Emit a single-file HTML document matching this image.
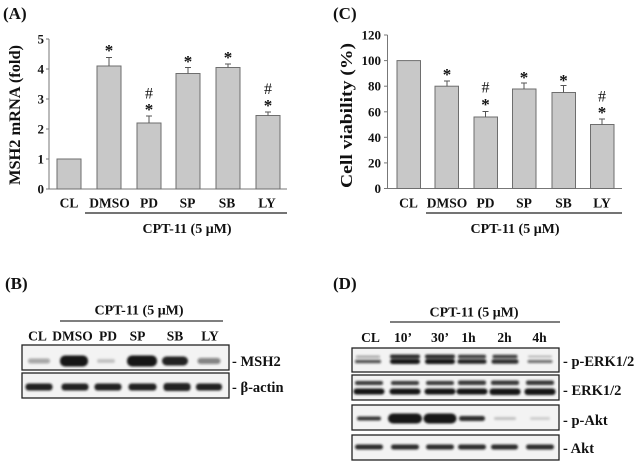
<!DOCTYPE html>
<html>
<head>
<meta charset="utf-8">
<style>
html,body{margin:0;padding:0;background:#fff;}
svg{display:block;}
text{font-family:"Liberation Serif",serif;fill:#111;}
.b{font-weight:bold;}
</style>
</head>
<body>
<svg width="639" height="464" viewBox="0 0 639 464" xmlns="http://www.w3.org/2000/svg">
<defs>
<filter id="bl" x="-30%" y="-100%" width="160%" height="300%"><feGaussianBlur stdDeviation="1.1"/></filter>
</defs>
<rect width="639" height="464" fill="#fff"/>

<!-- ============ Panel A ============ -->
<text x="3" y="19" class="b" font-size="17">(A)</text>
<text transform="translate(20,115) rotate(-90)" text-anchor="middle" class="b" font-size="16" textLength="140" lengthAdjust="spacingAndGlyphs">MSH2 mRNA (fold)</text>
<g stroke="#777" stroke-width="1">
<line x1="49" y1="39" x2="49" y2="189.5"/>
<line x1="49" y1="189" x2="287" y2="189"/>
<line x1="46" y1="39" x2="49" y2="39"/>
<line x1="46" y1="69" x2="49" y2="69"/>
<line x1="46" y1="99" x2="49" y2="99"/>
<line x1="46" y1="129" x2="49" y2="129"/>
<line x1="46" y1="159" x2="49" y2="159"/>
<line x1="46" y1="189" x2="49" y2="189"/>
</g>
<g class="b" font-size="13" text-anchor="end">
<text x="44" y="43.5">5</text>
<text x="44" y="73.5">4</text>
<text x="44" y="103.5">3</text>
<text x="44" y="133.5">2</text>
<text x="44" y="163.5">1</text>
<text x="44" y="193.5">0</text>
</g>
<g fill="#c8c8c8" stroke="#6e6e6e" stroke-width="1">
<rect x="57" y="159" width="24" height="30"/>
<rect x="97" y="66" width="24" height="123"/>
<rect x="137" y="123" width="24" height="66"/>
<rect x="176" y="73.5" width="24" height="115.5"/>
<rect x="216" y="67.5" width="24" height="121.5"/>
<rect x="256" y="115.5" width="24" height="73.5"/>
</g>
<g stroke="#555" stroke-width="1">
<line x1="109" y1="66" x2="109" y2="57.5"/><line x1="106" y1="57.5" x2="112" y2="57.5"/>
<line x1="149" y1="123" x2="149" y2="116"/><line x1="146" y1="116" x2="152" y2="116"/>
<line x1="188" y1="73.5" x2="188" y2="67.5"/><line x1="185" y1="67.5" x2="191" y2="67.5"/>
<line x1="228" y1="67.5" x2="228" y2="64"/><line x1="225" y1="64" x2="231" y2="64"/>
<line x1="268" y1="115.5" x2="268" y2="112"/><line x1="265" y1="112" x2="271" y2="112"/>
</g>
<g class="b" font-size="17" text-anchor="middle">
<text x="109" y="56">*</text>
<text x="149" y="115">*</text>
<text x="188" y="67">*</text>
<text x="228" y="63">*</text>
<text x="268" y="111">*</text>
</g>
<g font-size="16" text-anchor="middle">
<text x="149" y="98.5">#</text>
<text x="268" y="94">#</text>
</g>
<g class="b" font-size="13.5" text-anchor="middle">
<text x="69" y="207.5">CL</text>
<text x="109.5" y="207.5">DMSO</text>
<text x="149" y="207.5">PD</text>
<text x="187.5" y="207.5">SP</text>
<text x="227" y="207.5">SB</text>
<text x="267" y="207.5">LY</text>
</g>
<line x1="85" y1="213" x2="287" y2="213" stroke="#222" stroke-width="1.2"/>
<text x="187" y="233" class="b" font-size="14" text-anchor="middle">CPT-11 (5 μM)</text>

<!-- ============ Panel C ============ -->
<text x="333" y="19" class="b" font-size="17">(C)</text>
<text transform="translate(352,115.5) rotate(-90)" text-anchor="middle" class="b" font-size="17" textLength="145" lengthAdjust="spacingAndGlyphs">Cell viability (%)</text>
<g stroke="#777" stroke-width="1">
<line x1="387.5" y1="35" x2="387.5" y2="189"/>
<line x1="387.5" y1="188.5" x2="622" y2="188.5"/>
<line x1="384" y1="35" x2="387.5" y2="35"/>
<line x1="384" y1="60.6" x2="387.5" y2="60.6"/>
<line x1="384" y1="86.2" x2="387.5" y2="86.2"/>
<line x1="384" y1="111.8" x2="387.5" y2="111.8"/>
<line x1="384" y1="137.3" x2="387.5" y2="137.3"/>
<line x1="384" y1="162.9" x2="387.5" y2="162.9"/>
<line x1="384" y1="188.5" x2="387.5" y2="188.5"/>
</g>
<g class="b" font-size="13" text-anchor="end">
<text x="381" y="39.5">120</text>
<text x="381" y="65.1">100</text>
<text x="381" y="90.7">80</text>
<text x="381" y="116.3">60</text>
<text x="381" y="141.8">40</text>
<text x="381" y="167.4">20</text>
<text x="381" y="193">0</text>
</g>
<g fill="#c8c8c8" stroke="#6e6e6e" stroke-width="1">
<rect x="397" y="60.6" width="23.5" height="127.9"/>
<rect x="435" y="86.2" width="23.5" height="102.3"/>
<rect x="474" y="117" width="23.5" height="71.5"/>
<rect x="512.5" y="89" width="23.5" height="99.5"/>
<rect x="552" y="92.5" width="23.5" height="96"/>
<rect x="590.5" y="124.5" width="23.5" height="64"/>
</g>
<g stroke="#555" stroke-width="1">
<line x1="447" y1="86.2" x2="447" y2="81"/><line x1="444" y1="81" x2="450" y2="81"/>
<line x1="485.5" y1="117" x2="485.5" y2="111.5"/><line x1="482.5" y1="111.5" x2="488.5" y2="111.5"/>
<line x1="524" y1="89" x2="524" y2="83"/><line x1="521" y1="83" x2="527" y2="83"/>
<line x1="563.5" y1="92.5" x2="563.5" y2="85.5"/><line x1="560.5" y1="85.5" x2="566.5" y2="85.5"/>
<line x1="602" y1="124.5" x2="602" y2="119"/><line x1="599" y1="119" x2="605" y2="119"/>
</g>
<g class="b" font-size="17" text-anchor="middle">
<text x="447" y="80">*</text>
<text x="485.5" y="110">*</text>
<text x="524" y="83">*</text>
<text x="563.5" y="86">*</text>
<text x="602" y="118">*</text>
</g>
<g font-size="16" text-anchor="middle">
<text x="485.5" y="92.5">#</text>
<text x="602" y="101.5">#</text>
</g>
<g class="b" font-size="13.5" text-anchor="middle">
<text x="408.5" y="207.5">CL</text>
<text x="447" y="207.5">DMSO</text>
<text x="485.5" y="207.5">PD</text>
<text x="524" y="207.5">SP</text>
<text x="563.5" y="207.5">SB</text>
<text x="602" y="207.5">LY</text>
</g>
<line x1="426" y1="213" x2="622" y2="213" stroke="#222" stroke-width="1.2"/>
<text x="515" y="233" class="b" font-size="14" text-anchor="middle">CPT-11 (5 μM)</text>

<!-- ============ Panel B ============ -->
<text x="5" y="289" class="b" font-size="17">(B)</text>
<text x="139" y="314.5" class="b" font-size="14" text-anchor="middle">CPT-11 (5 μM)</text>
<line x1="60" y1="321" x2="223" y2="321" stroke="#333" stroke-width="1.2"/>
<g class="b" font-size="13.5" text-anchor="middle">
<text x="37.5" y="340.5">CL</text>
<text x="72.5" y="340.5">DMSO</text>
<text x="108" y="340.5">PD</text>
<text x="137.5" y="340.5">SP</text>
<text x="175" y="340.5">SB</text>
<text x="210" y="340.5">LY</text>
</g>
<rect x="22" y="345" width="207" height="25" fill="#f3f3f3" stroke="#222" stroke-width="1.3"/>
<rect x="22" y="373" width="207" height="25" fill="#f3f3f3" stroke="#222" stroke-width="1.3"/>
<g fill="#141414" filter="url(#bl)">
<rect x="28" y="358.5" width="22" height="5" rx="2.5" opacity="0.35"/>
<rect x="60" y="355.5" width="28" height="11" rx="5" opacity="1"/>
<rect x="97" y="359" width="18" height="4" rx="2" opacity="0.2"/>
<rect x="127" y="355.5" width="30" height="11" rx="5" opacity="1"/>
<rect x="162" y="356.5" width="26" height="9" rx="4.5" opacity="0.95"/>
<rect x="197.5" y="358" width="23" height="6" rx="3" opacity="0.5"/>
<rect x="25.5" y="383.5" width="27" height="7" rx="3" opacity="0.95"/>
<rect x="61.5" y="383.5" width="27" height="7" rx="3" opacity="0.95"/>
<rect x="94.5" y="383.5" width="27" height="7" rx="3" opacity="0.95"/>
<rect x="128.5" y="383.5" width="28" height="7" rx="3" opacity="0.95"/>
<rect x="163.5" y="383" width="27" height="8" rx="3" opacity="0.95"/>
<rect x="196" y="383.5" width="26" height="7" rx="3" opacity="0.95"/>
</g>
<g class="b" font-size="14.5">
<text x="232" y="366">- MSH2</text>
<text x="232" y="392">- β-actin</text>
</g>

<!-- ============ Panel D ============ -->
<text x="333" y="289" class="b" font-size="17">(D)</text>
<text x="474" y="316.5" class="b" font-size="14" text-anchor="middle">CPT-11 (5 μM)</text>
<line x1="390" y1="322" x2="560" y2="322" stroke="#333" stroke-width="1.2"/>
<g class="b" font-size="13.5" text-anchor="middle">
<text x="370.5" y="342">CL</text>
<text x="403" y="342">10’</text>
<text x="440" y="342">30’</text>
<text x="468.5" y="342">1h</text>
<text x="504.5" y="342">2h</text>
<text x="539.5" y="342">4h</text>
</g>
<rect x="352" y="348" width="207" height="24" fill="#f3f3f3" stroke="#222" stroke-width="1.3"/>
<rect x="352" y="375" width="207" height="25" fill="#f3f3f3" stroke="#222" stroke-width="1.3"/>
<rect x="352" y="405" width="207" height="25" fill="#f3f3f3" stroke="#222" stroke-width="1.3"/>
<rect x="352" y="435" width="207" height="25" fill="#f3f3f3" stroke="#222" stroke-width="1.3"/>
<g fill="#141414" filter="url(#bl)">
<!-- p-ERK upper -->
<rect x="356" y="355.5" width="24" height="2.5" rx="1.2" opacity="0.35"/>
<rect x="390" y="354.5" width="30" height="4" rx="2" opacity="0.9"/>
<rect x="425" y="354.5" width="30" height="4" rx="2" opacity="0.9"/>
<rect x="458" y="354.8" width="28" height="3.5" rx="1.7" opacity="0.85"/>
<rect x="492.5" y="354.8" width="25" height="3.5" rx="1.7" opacity="0.8"/>
<rect x="528" y="355.5" width="24" height="2" rx="1" opacity="0.25"/>
<!-- p-ERK lower -->
<rect x="355" y="359.8" width="26" height="3.5" rx="1.7" opacity="0.7"/>
<rect x="390" y="359" width="30" height="5" rx="2.5" opacity="1"/>
<rect x="425" y="359" width="30" height="5" rx="2.5" opacity="1"/>
<rect x="457.5" y="359.3" width="29" height="4.5" rx="2.2" opacity="0.95"/>
<rect x="491.5" y="359.3" width="27" height="4.5" rx="2.2" opacity="0.9"/>
<rect x="527.5" y="360" width="25" height="3" rx="1.5" opacity="0.6"/>
<!-- ERK upper -->
<rect x="355" y="381" width="28" height="4" rx="2" opacity="0.85"/>
<rect x="391" y="381" width="28" height="4" rx="2" opacity="0.85"/>
<rect x="426" y="381" width="28" height="4" rx="2" opacity="0.85"/>
<rect x="458" y="380.5" width="28" height="4.5" rx="2" opacity="0.85"/>
<rect x="491" y="380.5" width="28" height="4.5" rx="2" opacity="0.85"/>
<rect x="526" y="380.5" width="28" height="4.5" rx="2" opacity="0.85"/>
<!-- ERK lower -->
<rect x="353.5" y="388.5" width="31" height="6" rx="3" opacity="1"/>
<rect x="389.5" y="388.5" width="31" height="6" rx="3" opacity="1"/>
<rect x="424.5" y="388.5" width="31" height="6" rx="3" opacity="1"/>
<rect x="456.5" y="388.5" width="31" height="6" rx="3" opacity="1"/>
<rect x="489.5" y="388.5" width="31" height="6.5" rx="3" opacity="1"/>
<rect x="524.5" y="388.5" width="31" height="6.5" rx="3" opacity="1"/>
<!-- p-Akt -->
<rect x="357" y="416.5" width="24" height="4" rx="2" opacity="0.85"/>
<rect x="388" y="413.5" width="34" height="10" rx="5" opacity="1"/>
<rect x="423.5" y="413.5" width="33" height="10" rx="5" opacity="1"/>
<rect x="459" y="416" width="26" height="5" rx="2.5" opacity="0.9"/>
<rect x="494" y="417" width="22" height="3" rx="1.5" opacity="0.2"/>
<rect x="530" y="417" width="20" height="3" rx="1.5" opacity="0.15"/>
<!-- Akt -->
<rect x="355" y="444.5" width="28" height="5" rx="2.5" opacity="0.9"/>
<rect x="391" y="444.5" width="28" height="5" rx="2.5" opacity="0.9"/>
<rect x="426" y="444.5" width="28" height="5" rx="2.5" opacity="0.9"/>
<rect x="458" y="444.5" width="28" height="5" rx="2.5" opacity="0.9"/>
<rect x="491" y="444.5" width="27" height="5" rx="2.5" opacity="0.9"/>
<rect x="526" y="444.5" width="28" height="5" rx="2.5" opacity="0.9"/>
</g>
<g class="b" font-size="14.5">
<text x="563" y="366">- p-ERK1/2</text>
<text x="563" y="395">- ERK1/2</text>
<text x="563" y="425">- p-Akt</text>
<text x="563" y="453">- Akt</text>
</g>
</svg>
</body>
</html>
